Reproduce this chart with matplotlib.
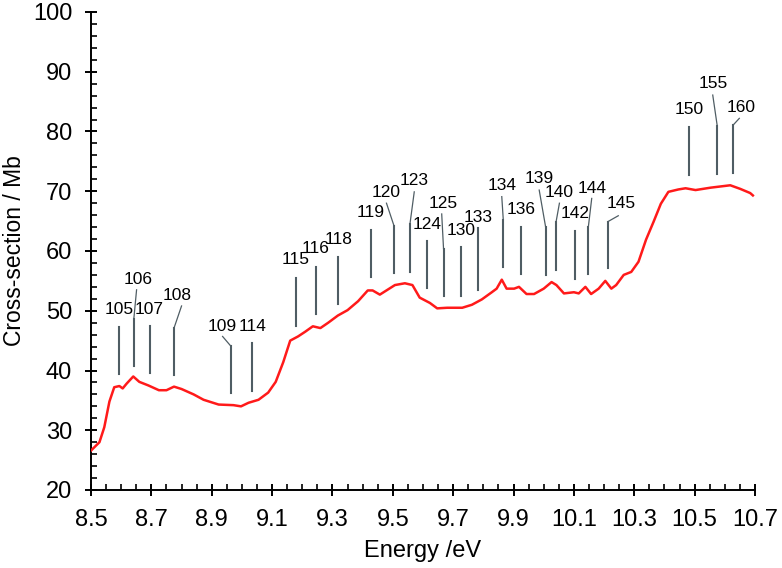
import numpy as np
import matplotlib.pyplot as plt
from matplotlib.ticker import MultipleLocator

# spectrum
energy = [8.500, 8.528, 8.544, 8.561, 8.577, 8.594, 8.605, 8.618, 8.640, 8.660,
          8.690, 8.725, 8.750, 8.775, 8.800, 8.840, 8.873, 8.923, 8.972, 8.997,
          9.022, 9.055, 9.087, 9.112, 9.137, 9.160, 9.186, 9.210, 9.235, 9.260,
          9.286, 9.318, 9.350, 9.385, 9.417, 9.433, 9.457, 9.482, 9.507, 9.540,
          9.565, 9.589, 9.623, 9.647, 9.680, 9.730, 9.762, 9.795, 9.828, 9.844,
          9.861, 9.877, 9.902, 9.918, 9.943, 9.968, 10.000, 10.026, 10.042, 10.067,
          10.100, 10.116, 10.138, 10.157, 10.182, 10.204, 10.224, 10.240, 10.265, 10.290,
          10.314, 10.339, 10.364, 10.388, 10.413, 10.446, 10.470, 10.503, 10.553, 10.618,
          10.651, 10.684, 10.693]
xsec = [26.6, 28.0, 30.5, 34.8, 37.2, 37.4, 37.0, 37.8, 39.0, 38.1,
        37.5, 36.7, 36.7, 37.3, 36.9, 36.0, 35.1, 34.3, 34.2, 34.0,
        34.6, 35.1, 36.3, 38.1, 41.4, 45.0, 45.7, 46.5, 47.4, 47.1,
        48.0, 49.2, 50.1, 51.6, 53.4, 53.4, 52.7, 53.5, 54.3, 54.6,
        54.3, 52.2, 51.3, 50.4, 50.5, 50.5, 51.0, 51.9, 53.1, 53.7,
        55.2, 53.7, 53.7, 54.0, 52.8, 52.8, 53.7, 54.8, 54.3, 52.9,
        53.1, 52.9, 54.0, 52.8, 53.7, 55.0, 53.7, 54.3, 56.0, 56.5,
        58.2, 61.9, 64.9, 67.9, 69.9, 70.3, 70.5, 70.2, 70.6, 71.0,
        70.4, 69.7, 69.3]

# assignment markers: line x, bottom, top, label x, label y
labels = ['105', '106', '107', '108', '109', '114', '115', '116', '118', '119',
          '120', '123', '124', '125', '130', '133', '134', '136', '139', '140',
          '142', '144', '145', '150', '155', '160']
line_x = [8.593, 8.642, 8.694, 8.775, 8.963, 9.034, 9.178, 9.245, 9.320, 9.428,
          9.504, 9.557, 9.614, 9.668, 9.726, 9.783, 9.866, 9.925, 10.006, 10.041,
          10.104, 10.148, 10.212, 10.481, 10.575, 10.628]
line_bot = [39.4, 40.8, 39.5, 39.2, 36.2, 36.6, 47.5, 49.5, 51.1, 55.6,
            56.3, 56.5, 53.8, 52.5, 52.5, 53.5, 57.4, 56.2, 56.0, 56.8,
            55.3, 56.2, 57.1, 72.7, 72.9, 73.1]
line_top = [47.3, 48.7, 47.4, 47.1, 44.1, 44.6, 55.4, 57.4, 59.0, 63.5,
            64.2, 64.6, 61.7, 60.4, 60.6, 63.8, 65.2, 64.1, 64.1, 64.9,
            63.3, 64.1, 64.9, 80.7, 80.9, 81.1]
# leader end (only where the line bends towards its label)
lead_x = [None, 8.651, None, 8.800, 8.936, None, None, None, None, None,
          9.479, 9.571, None, 9.662, None, None, 9.861, None, 9.985, 10.052,
          None, 10.159, 10.247, None, 10.560, 10.648]
lead_y = [None, 53.5, None, 50.8, 45.7, None, None, None, None, None,
          68.0, 69.9, None, 66.2, None, None, 69.1, None, 70.2, 68.0,
          None, 68.8, 65.9, None, 86.1, 82.2]
label_x = [8.593, 8.657, 8.694, 8.786, 8.936, 9.034, 9.178, 9.245, 9.320, 9.428,
           9.479, 9.571, 9.614, 9.666, 9.726, 9.783, 9.861, 9.925, 9.985, 10.052,
           10.104, 10.162, 10.258, 10.481, 10.563, 10.654]
label_y = [50.2, 55.3, 50.2, 52.6, 47.4, 47.4, 58.5, 60.4, 62.0, 66.4,
           69.8, 71.8, 64.5, 68.0, 63.4, 65.6, 70.9, 67.0, 72.2, 69.8,
           66.3, 70.5, 68.0, 83.6, 88.1, 84.0]

plt.rcParams['font.family'] = ['Liberation Sans', 'DejaVu Sans']

fig = plt.figure(figsize=(7.82, 5.68), dpi=100)
ax = fig.add_axes([91/782, 78/568, 664/782, 478/568])

ax.plot(energy, xsec, color='#ff1a1a', lw=1.8, zorder=3)

grey = '#4f5d64'
for i in range(len(labels)):
    ax.plot([line_x[i], line_x[i]], [line_bot[i], line_top[i]], color=grey, lw=1.5)
    if lead_x[i] is not None:
        ax.plot([line_x[i], lead_x[i]], [line_top[i], lead_y[i]], color=grey, lw=0.9)
    ax.text(label_x[i], label_y[i], labels[i], ha='center', va='center', fontsize=12.5)

ax.set_xlim(8.5, 10.7)
ax.set_ylim(20, 100)
ax.xaxis.set_minor_locator(MultipleLocator(0.05))
ax.yaxis.set_major_locator(MultipleLocator(10))
ax.yaxis.set_minor_locator(MultipleLocator(2))
ax.set_xticks(np.arange(8.5, 10.71, 0.2))
ax.set_xticklabels(['8.5', '8.7', '8.9', '9.1', '9.3', '9.5', '9.7', '9.9',
                    '10.1', '10.3', '10.5', '10.7'])

for s in ['top', 'right']:
    ax.spines[s].set_visible(False)
for s in ['left', 'bottom']:
    ax.spines[s].set_linewidth(1.4)

ax.tick_params(which='major', direction='inout', length=9, width=1.4, labelsize=17)
ax.tick_params(which='minor', direction='in', length=4, width=1.2)
ax.tick_params(axis='y', which='major', pad=9)
ax.tick_params(axis='x', which='major', pad=9)

ax.set_xlabel('Energy /eV', fontsize=17, labelpad=7)
ax.set_ylabel('Cross-section / Mb', fontsize=16.5, labelpad=5)

fig.savefig('out.png', dpi=100)
